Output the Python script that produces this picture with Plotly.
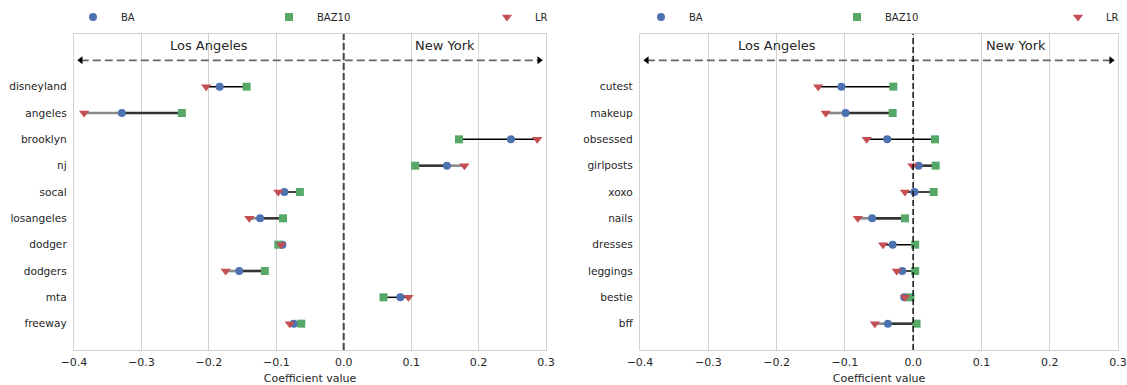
import plotly.graph_objects as go

# Words whose coefficients point toward each city, per model
la_words = ["disneyland", "angeles", "brooklyn", "nj", "socal",
            "losangeles", "dodger", "dodgers", "mta", "freeway"]
la_ba = [-0.184, -0.329, 0.248, 0.153, -0.088, -0.124, -0.091, -0.155, 0.084, -0.074]
la_baz10 = [-0.144, -0.240, 0.171, 0.106, -0.065, -0.090, -0.097, -0.117, 0.059, -0.063]
la_lr = [-0.204, -0.385, 0.287, 0.179, -0.097, -0.140, -0.093, -0.175, 0.096, -0.080]
la_strong = ["angeles", "nj", "losangeles", "dodgers"]

ny_words = ["cutest", "makeup", "obsessed", "girlposts", "xoxo",
            "nails", "dresses", "leggings", "bestie", "bff"]
ny_ba = [-0.105, -0.099, -0.038, 0.008, 0.002, -0.060, -0.030, -0.016, -0.013, -0.037]
ny_baz10 = [-0.029, -0.030, 0.032, 0.033, 0.030, -0.012, 0.003, 0.003, -0.004, 0.005]
ny_lr = [-0.139, -0.128, -0.068, -0.001, -0.012, -0.081, -0.044, -0.024, -0.012, -0.056]
ny_strong = ["makeup", "girlposts", "nails", "bff"]

x_ticks = [-0.4, -0.3, -0.2, -0.1, 0.0, 0.1, 0.2, 0.3]
regions = ["Los Angeles", "New York"]
region_x = [-0.2, 0.15]
arrow_ends = [-0.39, 0.29]

C_BA, C_BAZ, C_LR = "#4C72B0", "#55A868", "#C44E52"
TXT = "#262626"
GRID = "#d2d2d2"
FONT = "DejaVu Sans"

W, H = 1127, 385
y_dom = [1 - 350 / H, 1 - 34 / H]
panels = [
    dict(words=la_words, ba=la_ba, baz=la_baz10, lr=la_lr, strong=la_strong,
         dom=[74 / W, 546 / W], xa="x", ya="y", zero_col="#444444", zero_w=2,
         zero_dash="7px,3px", legends=["legend", "legend2", "legend3"],
         leg_x=[93, 289, 507]),
    dict(words=ny_words, ba=ny_ba, baz=ny_baz10, lr=ny_lr, strong=ny_strong,
         dom=[640 / W, 1118 / W], xa="x2", ya="y2", zero_col="#111111", zero_w=1.5,
         zero_dash="6px,3px", legends=["legend4", "legend5", "legend6"],
         leg_x=[661, 857, 1078]),
]

fig = go.Figure()
layout = dict(
    width=W, height=H, margin=dict(l=0, r=0, t=0, b=0),
    paper_bgcolor="white", plot_bgcolor="white",
    font=dict(family=FONT, size=11, color=TXT),
    shapes=[], annotations=[],
)

for p in panels:
    idx = list(range(len(p["words"])))
    thin_x, thin_y, grey_x, grey_y, dark_x, dark_y = [], [], [], [], [], []
    for i, w in enumerate(p["words"]):
        if w in p["strong"]:
            grey_x += [p["lr"][i], p["ba"][i], None]
            grey_y += [i, i, None]
            dark_x += [p["ba"][i], p["baz"][i], None]
            dark_y += [i, i, None]
        else:
            thin_x += [p["lr"][i], p["baz"][i], None]
            thin_y += [i, i, None]
    ax = dict(xaxis=p["xa"], yaxis=p["ya"], hoverinfo="skip")

    # dashed region arrow with heads at both ends
    fig.add_trace(go.Scatter(x=arrow_ends, y=[-1, -1], mode="lines",
                             line=dict(color="#666666", width=1.8, dash="8px,4px"),
                             showlegend=False, **ax))
    fig.add_trace(go.Scatter(x=arrow_ends, y=[-1, -1], mode="markers",
                             marker=dict(symbol=["triangle-left", "triangle-right"],
                                         size=7, color="black"),
                             showlegend=False, **ax))

    fig.add_trace(go.Scatter(x=thin_x, y=thin_y, mode="lines",
                             line=dict(color="black", width=1.5), showlegend=False, **ax))
    fig.add_trace(go.Scatter(x=grey_x, y=grey_y, mode="lines",
                             line=dict(color="#8a8a8a", width=2.6), showlegend=False, **ax))
    fig.add_trace(go.Scatter(x=dark_x, y=dark_y, mode="lines",
                             line=dict(color="#333333", width=2.6), showlegend=False, **ax))

    series = [("BA", p["ba"], "circle", 8, C_BA, p["legends"][0]),
              ("BAZ10", p["baz"], "square", 8, C_BAZ, p["legends"][1]),
              ("LR", p["lr"], "triangle-down", 9, C_LR, p["legends"][2])]
    for name, vals, sym, sz, col, leg in series:
        fig.add_trace(go.Scatter(x=vals, y=idx, mode="markers", name=name,
                                 marker=dict(symbol=sym, size=sz, color=col, line=dict(width=0)),
                                 legend=leg, **ax))

    for leg, lx in zip(p["legends"], p["leg_x"]):
        layout[leg] = dict(x=(lx - 28) / W, xanchor="left", y=1 - 17 / H, yanchor="middle",
                           orientation="h", bgcolor="rgba(0,0,0,0)", itemwidth=46,
                           font=dict(family=FONT, size=10, color=TXT))

    xkey = "xaxis" if p["xa"] == "x" else "xaxis2"
    ykey = "yaxis" if p["ya"] == "y" else "yaxis2"
    layout[xkey] = dict(domain=p["dom"], anchor=p["ya"], range=[-0.4, 0.3],
                        tickvals=x_ticks, tickformat=".1f", ticks="",
                        ticklabelstandoff=2,
                        showgrid=True, gridcolor=GRID, gridwidth=1, zeroline=False,
                        showline=True, linecolor=GRID, linewidth=1.25, mirror=True,
                        title=dict(text="Coefficient value", standoff=8,
                                   font=dict(size=11)),
                        automargin=False)
    layout[ykey] = dict(domain=y_dom, anchor=p["xa"], range=[10, -2],
                        tickvals=idx, ticktext=p["words"], ticks="",
                        ticklabelstandoff=4, tickfont=dict(size=10.6),
                        showgrid=False, zeroline=False,
                        showline=True, linecolor=GRID, linewidth=1.25, mirror=True,
                        automargin=False)

    xref = p["xa"]
    yref = p["ya"]
    layout["shapes"].append(dict(type="line", xref=xref, yref=yref + " domain",
                                 x0=0, x1=0, y0=0, y1=1,
                                 line=dict(color=p["zero_col"], width=p["zero_w"],
                                           dash=p["zero_dash"])))
    for txt, rx in zip(regions, region_x):
        layout["annotations"].append(dict(x=rx, y=-1.55, xref=xref, yref=yref, text=txt,
                                          showarrow=False, font=dict(size=13, color=TXT)))

fig.update_layout(**layout)
fig.write_html("out.html")
